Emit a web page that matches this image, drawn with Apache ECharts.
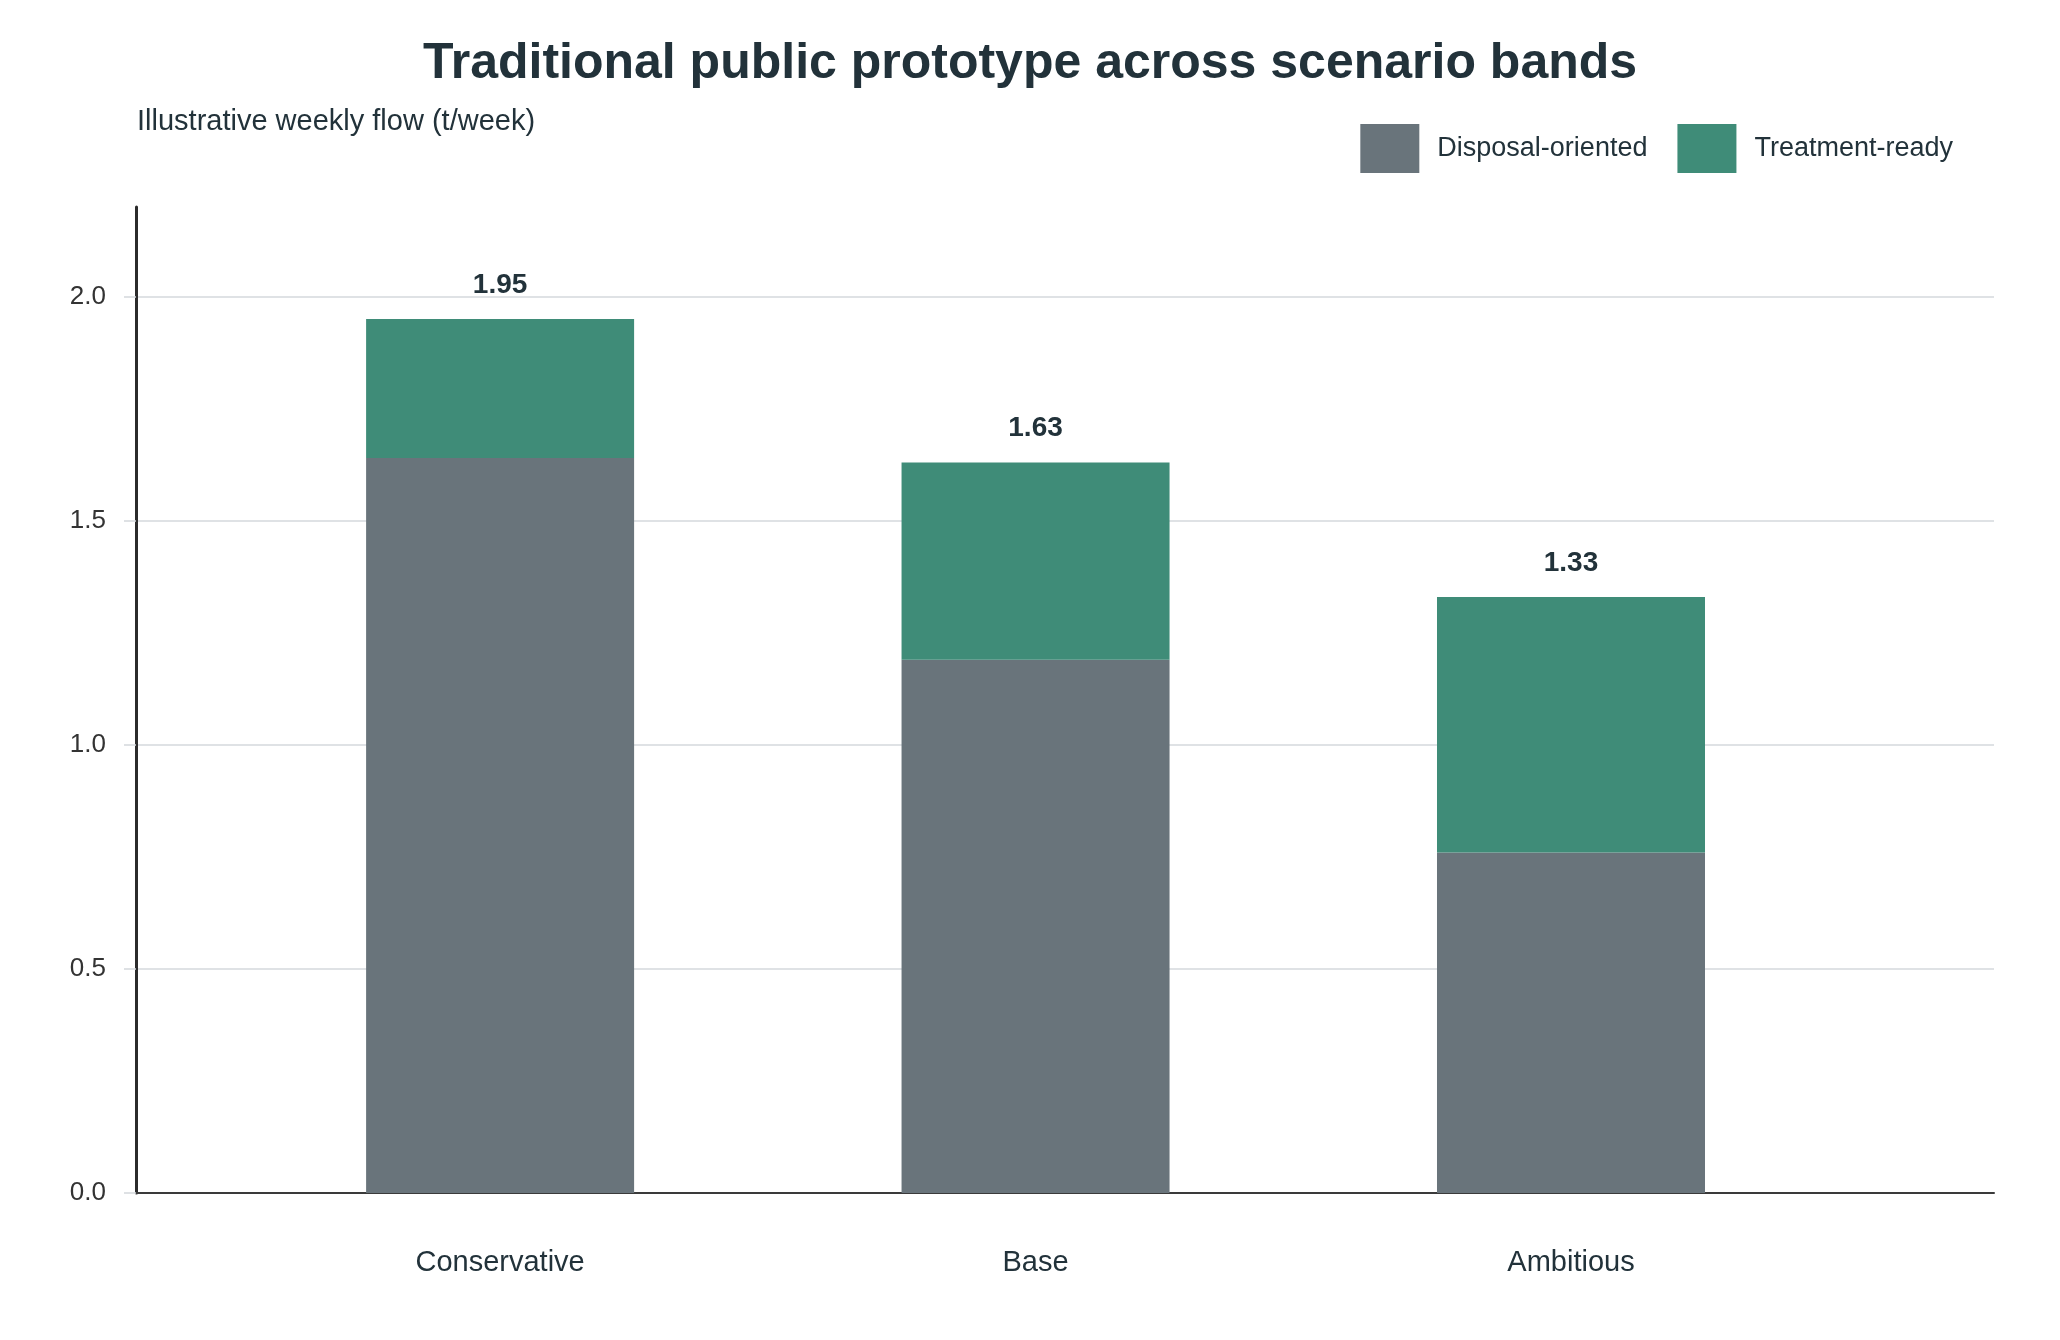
<!DOCTYPE html>
<html>
<head>
<meta charset="utf-8">
<script src="https://cdn.jsdelivr.net/npm/echarts@6/dist/echarts.min.js"></script>
<style>
  html, body { margin: 0; padding: 0; background: #ffffff; }
  #main { width: 2060px; height: 1340px; }
</style>
</head>
<body>
<div id="main"></div>
<script>
var scenarios = ['Conservative', 'Base', 'Ambitious'];
var disposal = [1.64, 1.19, 0.76];
var treatment = [0.31, 0.44, 0.57];
var totals = [1.95, 1.63, 1.33];

var font = 'Liberation Sans, Arial, sans-serif';
var ink = '#22323a';

// frame grid runs past the bars unevenly (x from -0.68 to 2.79),
// so the bars live in a second grid laid exactly over the 0..2 slots
var frameLeft = 136, frameRight = 66, gridTop = 207, gridBottom = 147;
var xMin = -0.68, xMax = 2.79;
var unit = (2060 - frameLeft - frameRight) / (xMax - xMin);
var barsLeft = frameLeft + (-0.5 - xMin) * unit;
var barsRight = 2060 - (barsLeft + scenarios.length * unit);

var myChart = echarts.init(document.getElementById('main'));
var option = {
  backgroundColor: '#ffffff',
  textStyle: { fontFamily: font },
  title: [
    {
      text: 'Traditional public prototype across scenario bands',
      left: 'center',
      top: 34,
      textStyle: { fontSize: 50, fontWeight: 'bold', color: ink, fontFamily: font }
    },
    {
      text: 'Illustrative weekly flow (t/week)',
      left: 132,
      top: 102,
      textStyle: { fontSize: 29, fontWeight: 'normal', color: ink, fontFamily: font }
    }
  ],
  legend: {
    data: ['Disposal-oriented', 'Treatment-ready'],
    right: 102,
    top: 119,
    itemWidth: 59,
    itemHeight: 49,
    itemGap: 30,
    icon: 'rect',
    textStyle: { fontSize: 27, color: ink, padding: [0, 0, 0, 13] }
  },
  grid: [
    { left: frameLeft, right: frameRight, top: gridTop, bottom: gridBottom, containLabel: false },
    { left: barsLeft, right: barsRight, top: gridTop, bottom: gridBottom, containLabel: false }
  ],
  xAxis: [
    {
      type: 'value',
      gridIndex: 0,
      min: xMin,
      max: xMax,
      splitLine: { show: false },
      axisLine: { onZero: false, lineStyle: { color: '#3a3a3a', width: 2 } },
      axisTick: { show: false },
      axisLabel: { show: false }
    },
    {
      type: 'category',
      gridIndex: 1,
      data: scenarios,
      axisLine: { show: false },
      axisTick: { show: false },
      axisLabel: { fontSize: 29, color: ink, margin: 55 }
    }
  ],
  yAxis: [
    {
      type: 'value',
      gridIndex: 0,
      min: 0,
      max: 2.2,
      interval: 0.5,
      axisLine: { show: true, onZero: false, lineStyle: { color: '#2b2b2b', width: 3 } },
      axisTick: { show: true, length: 12, lineStyle: { color: '#d3d7db', width: 1.5 } },
      axisLabel: {
        fontSize: 26, color: '#333333', margin: 30, showMaxLabel: false,
        formatter: function (v) { return v.toFixed(1); }
      },
      splitLine: { showMaxLine: false, lineStyle: { color: '#d5d9dd', width: 1.5 } }
    },
    {
      type: 'value',
      gridIndex: 1,
      min: 0,
      max: 2.2,
      show: false
    }
  ],
  series: [
    {
      name: 'Disposal-oriented',
      type: 'bar',
      xAxisIndex: 1,
      yAxisIndex: 1,
      stack: 'flow',
      barWidth: 268,
      data: disposal,
      itemStyle: { color: '#69747b' }
    },
    {
      name: 'Treatment-ready',
      type: 'bar',
      xAxisIndex: 1,
      yAxisIndex: 1,
      stack: 'flow',
      barWidth: 268,
      data: treatment,
      itemStyle: { color: '#3f8c78' },
      label: {
        show: true,
        position: 'top',
        distance: 20,
        fontSize: 28,
        fontWeight: 'bold',
        color: ink,
        formatter: function (p) { return totals[p.dataIndex].toFixed(2); }
      }
    }
  ]
};
myChart.setOption(option);

window.addEventListener('resize', function () {
  myChart.resize();
});
</script>
</body>
</html>
